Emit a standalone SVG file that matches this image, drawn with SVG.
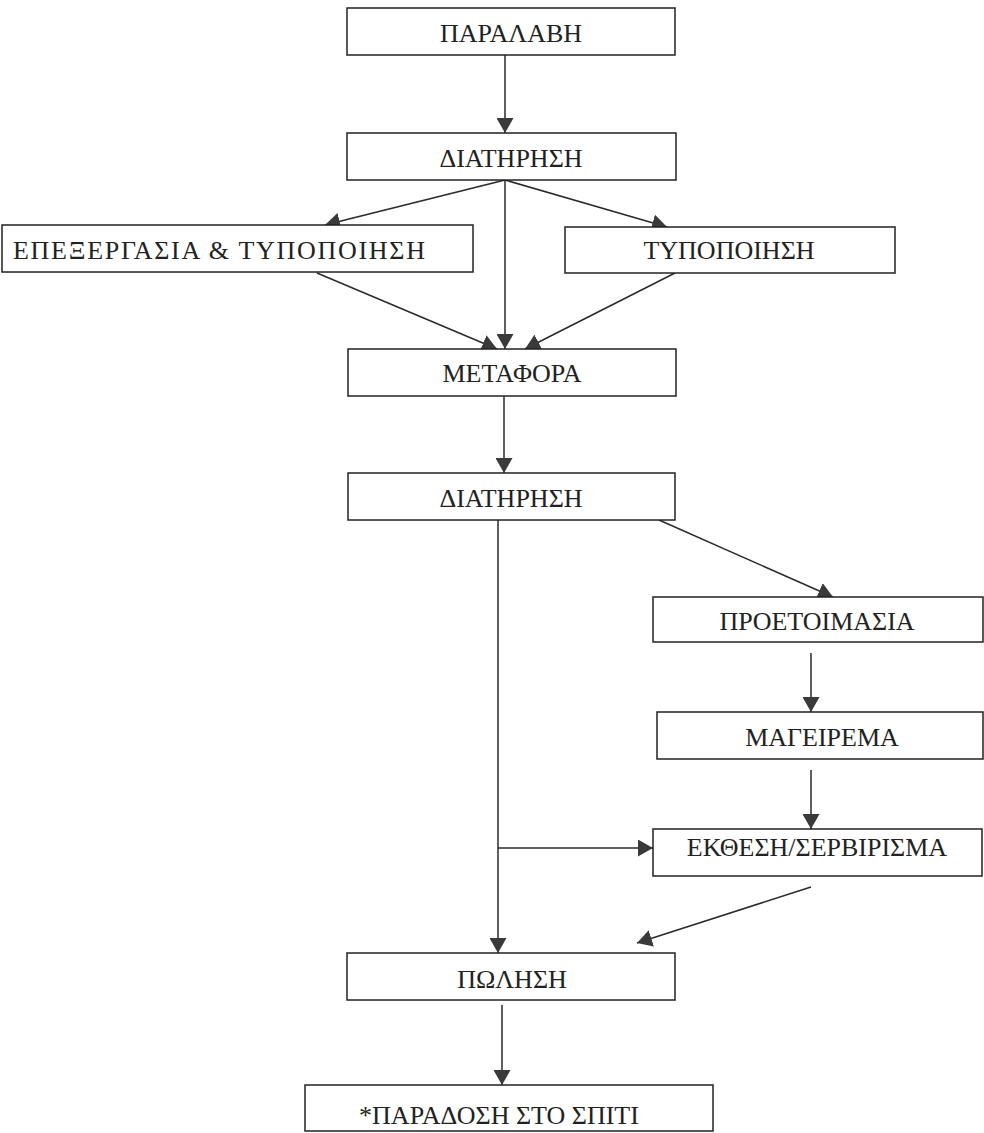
<svg xmlns="http://www.w3.org/2000/svg" width="984" height="1133" viewBox="0 0 984 1133">
<style>
.box{fill:#fff;stroke:#222;stroke-width:1.5}
.lbl{font-family:"Liberation Serif","DejaVu Serif",serif;font-size:26px;fill:#222;text-anchor:middle}
.con{stroke:#2a2a2a;stroke-width:1.5;fill:none;marker-end:url(#ah)}
</style>
<defs>
<marker id="ah" markerUnits="userSpaceOnUse" markerWidth="16" markerHeight="17" refX="15" refY="8.5" orient="auto">
<path d="M0,0 L15,8.5 L0,17 z" fill="#3a3a3a"/>
</marker>
</defs>
<rect width="984" height="1133" fill="#fff"/>
<g id="connectors">
<line class="con" x1="505" y1="55" x2="505" y2="133"/>
<line class="con" x1="505" y1="180" x2="325" y2="225"/>
<line class="con" x1="505" y1="180" x2="667" y2="227"/>
<line class="con" x1="505" y1="180" x2="505" y2="349"/>
<line class="con" x1="317" y1="273" x2="497" y2="349"/>
<line class="con" x1="675" y1="273" x2="525" y2="349"/>
<line class="con" x1="504" y1="396" x2="504" y2="473"/>
<line class="con" x1="498" y1="520" x2="498" y2="953"/>
<line class="con" x1="498" y1="848" x2="653" y2="848"/>
<line class="con" x1="659" y1="520" x2="833" y2="597"/>
<line class="con" x1="811" y1="653" x2="811" y2="712"/>
<line class="con" x1="811" y1="770" x2="811" y2="829"/>
<line class="con" x1="811" y1="887" x2="637" y2="943"/>
<line class="con" x1="502" y1="1005" x2="502" y2="1085"/>
</g>
<g id="n1"><rect class="box" x="347" y="8" width="328" height="47"/><text class="lbl" x="511" y="42">ΠΑΡΑΛΑΒΗ</text></g>
<g id="n2"><rect class="box" x="347" y="133" width="329" height="47"/><text class="lbl" x="511" y="167">ΔΙΑΤΗΡΗΣΗ</text></g>
<g id="n3"><rect class="box" x="2" y="225" width="471" height="47"/><text class="lbl" x="219" y="259" textLength="412" lengthAdjust="spacing">ΕΠΕΞΕΡΓΑΣΙΑ &amp; ΤΥΠΟΠΟΙΗΣΗ</text></g>
<g id="n4"><rect class="box" x="565" y="227" width="330" height="46"/><text class="lbl" x="729" y="259">ΤΥΠΟΠΟΙΗΣΗ</text></g>
<g id="n5"><rect class="box" x="348" y="349" width="328" height="47"/><text class="lbl" x="512" y="382">ΜΕΤΑΦΟΡΑ</text></g>
<g id="n6"><rect class="box" x="348" y="473" width="327" height="47"/><text class="lbl" x="511" y="507">ΔΙΑΤΗΡΗΣΗ</text></g>
<g id="n7"><rect class="box" x="653" y="597" width="330" height="45"/><text class="lbl" x="817" y="630">ΠΡΟΕΤΟΙΜΑΣΙΑ</text></g>
<g id="n8"><rect class="box" x="657" y="712" width="326" height="47"/><text class="lbl" x="822" y="746">ΜΑΓΕΙΡΕΜΑ</text></g>
<g id="n9"><rect class="box" x="653" y="829" width="329" height="47"/><text class="lbl" x="817" y="856">ΕΚΘΕΣΗ/ΣΕΡΒΙΡΙΣΜΑ</text></g>
<g id="n10"><rect class="box" x="347" y="953" width="328" height="47"/><text class="lbl" x="512" y="988">ΠΩΛΗΣΗ</text></g>
<g id="n11"><rect class="box" x="305" y="1085" width="408" height="46"/><text class="lbl" x="499" y="1124">*ΠΑΡΑΔΟΣΗ ΣΤΟ ΣΠΙΤΙ</text></g>
</svg>
